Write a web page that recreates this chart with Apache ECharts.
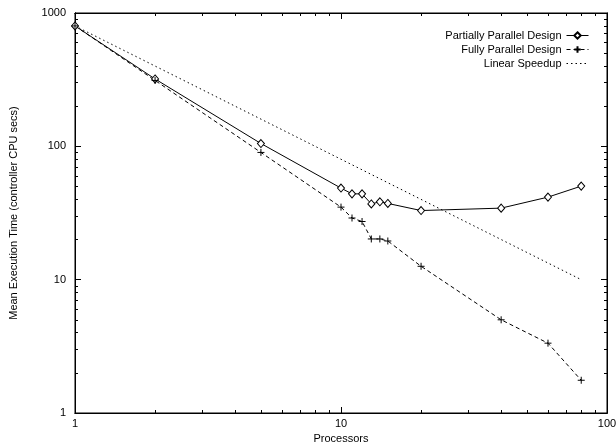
<!DOCTYPE html>
<html>
<head>
<meta charset="utf-8">
<script src="https://cdn.jsdelivr.net/npm/echarts@6/dist/echarts.min.js"></script>
<style>
  html, body { margin: 0; padding: 0; background: #fff; }
  #chart { width: 616px; height: 443px; }
</style>
</head>
<body>
<div id="chart"></div>
<script>
// processors on x axis, mean execution time on y axis
const processors = [1, 2, 5, 10, 11, 12, 13, 14, 15, 20, 40, 60, 80];
const partialTimes = [800, 320, 105, 48.6, 44, 44, 37, 38.4, 37.3, 33, 34.4, 41.6, 50.3];
const fullTimes = [800, 312, 90, 35, 29, 27.3, 20.2, 20.2, 19.5, 12.6, 5.0, 3.34, 1.76];
const linearX = [1, 80];
const linearY = [800, 10];
const xMinorTicks = [2, 3, 4, 5, 6, 7, 8, 9, 20, 30, 40, 50, 60, 70, 80, 90];
const yMinorTicks = [2, 3, 4, 5, 6, 7, 8, 9, 20, 30, 40, 50, 60, 70, 80, 90, 200, 300, 400, 500, 600, 700, 800, 900];

const font = 'Liberation Sans, Arial, sans-serif';
const pairs = (xs, ys) => xs.map((x, i) => [x, ys[i]]);

// one log axis; the extra copies only carry tick marks (major or minor)
function logAxis(dir, pos, major) {
  const ax = {
    type: 'log',
    logBase: 10,
    min: 1,
    max: dir === 'x' ? 100 : 1000,
    position: pos,
    axisLine: { show: true, lineStyle: { color: '#000', width: 1 } },
    splitLine: { show: false },
    axisLabel: { show: false },
    axisTick: {
      show: true,
      inside: true,
      length: major ? 6 : 3,
      lineStyle: { color: '#000', width: 1 }
    }
  };
  if (!major) {
    ax.axisTick.customValues = dir === 'x' ? xMinorTicks : yMinorTicks;
  }
  return ax;
}

const xMain = logAxis('x', 'bottom', true);
xMain.name = 'Processors';
xMain.nameLocation = 'middle';
xMain.nameGap = 20;
xMain.nameTextStyle = { fontFamily: font, fontSize: 11, color: '#000' };
xMain.axisLabel = { show: true, color: '#000', fontFamily: font, fontSize: 11, margin: 5 };

const yMain = logAxis('y', 'left', true);
yMain.name = 'Mean Execution Time (controller CPU secs)';
yMain.nameLocation = 'middle';
yMain.nameGap = 56;
yMain.nameTextStyle = { fontFamily: font, fontSize: 11, color: '#000' };
yMain.axisLabel = { show: true, color: '#000', fontFamily: font, fontSize: 11, margin: 9, formatter: v => String(v) };

const chart = echarts.init(document.getElementById('chart'));
chart.setOption({
  animation: false,
  grid: {
    left: 75, right: 9, top: 13, bottom: 30,
    outerBoundsMode: 'none',
    show: true, borderColor: '#000'
  },
  legend: {
    orient: 'vertical',
    right: 22,
    top: 25,
    align: 'right',
    itemWidth: 22,
    itemHeight: 8,
    itemGap: 3,
    lineStyle: { width: 1 },
    textStyle: { fontFamily: font, fontSize: 11, color: '#000' },
    data: [
      'Partially Parallel Design',
      'Fully Parallel Design',
      { name: 'Linear Speedup', itemStyle: { color: 'rgba(0,0,0,0)', borderColor: 'rgba(0,0,0,0)', borderWidth: 0 } }
    ]
  },
  xAxis: [xMain, logAxis('x', 'bottom', false), logAxis('x', 'top', true), logAxis('x', 'top', false)],
  yAxis: [yMain, logAxis('y', 'left', false), logAxis('y', 'right', true), logAxis('y', 'right', false)],
  series: [
    {
      name: 'Partially Parallel Design',
      type: 'line',
      data: pairs(processors, partialTimes),
      symbol: 'path://M5,0L10,5L5,10L0,5Z',
      symbolSize: [7, 8],
      lineStyle: { color: '#000', width: 1 },
      itemStyle: { color: '#fff', borderColor: '#000', borderWidth: 1 }
    },
    {
      name: 'Fully Parallel Design',
      type: 'line',
      data: pairs(processors, fullTimes),
      symbol: 'path://M5,0L5,10M0,5L10,5',
      symbolSize: 7,
      lineStyle: { color: '#000', width: 1, type: [4, 3] },
      itemStyle: { color: '#000', borderColor: '#000', borderWidth: 1 }
    },
    {
      name: 'Linear Speedup',
      type: 'line',
      data: pairs(linearX, linearY),
      symbol: 'none',
      lineStyle: { color: '#000', width: 1, type: [1.5, 3] },
      itemStyle: { color: '#000' }
    }
  ]
});
</script>
</body>
</html>
